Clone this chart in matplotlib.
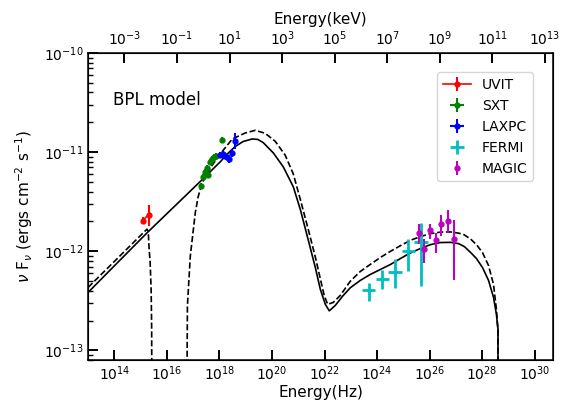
import numpy as np
import matplotlib
matplotlib.use("Agg")
import matplotlib.pyplot as plt
from matplotlib.ticker import NullLocator

# --- data (log10 of frequency in Hz, log10 of nuFnu) ---
uvit_lognu = [15.08, 15.30]
uvit_logf = [-11.69, -11.63]
uvit_lo = [-11.73, -11.75]
uvit_hi = [-11.65, -11.53]

sxt_lognu = [17.29, 17.39, 17.46, 17.51, 17.58, 17.63, 17.70, 17.78, 17.88, 18.09]
sxt_logf = [-11.34, -11.25, -11.20, -11.16, -11.23, -11.10, -11.07, -11.05, -11.04, -10.88]
sxt_dx = [0.04, 0.04, 0.04, 0.04, 0.04, 0.04, 0.04, 0.04, 0.04, 0.05]
sxt_dy = [0.03, 0.03, 0.03, 0.03, 0.03, 0.03, 0.03, 0.03, 0.03, 0.03]

laxpc_lognu = [18.03, 18.12, 18.22, 18.30, 18.38, 18.49, 18.60]
laxpc_logf = [-11.03, -11.02, -11.04, -11.05, -11.07, -11.01, -10.89]
laxpc_dx = [0.08, 0.08, 0.08, 0.08, 0.08, 0.08, 0.08]
laxpc_dy = [0.03, 0.03, 0.03, 0.03, 0.04, 0.04, 0.08]

fermi_lognu = [23.68, 24.19, 24.68, 25.19, 25.67]
fermi_logf = [-12.39, -12.28, -12.21, -12.00, -11.91]
fermi_lo = [-12.50, -12.385, -12.37, -12.20, -12.35]
fermi_hi = [-12.32, -12.185, -12.08, -11.875, -11.71]
fermi_dx = [0.25, 0.25, 0.25, 0.25, 0.25]

magic_lognu = [25.58, 25.80, 26.01, 26.23, 26.45, 26.68, 26.91]
magic_logf = [-11.82, -11.98, -11.79, -11.89, -11.73, -11.69, -11.88]
magic_lo = [-11.93, -12.12, -11.88, -12.02, -11.85, -11.82, -12.29]
magic_hi = [-11.72, -11.88, -11.73, -11.82, -11.63, -11.58, -11.68]

# model curves
solid_lognu = [13.00, 15.24, 17.27, 18.03, 18.30, 18.60, 18.90, 19.25, 19.46, 19.67,
               20.05, 20.43, 20.81, 21.08, 21.38, 21.65, 21.84, 22.03, 22.18, 22.41,
               22.68, 22.98, 23.36, 23.74, 24.12, 24.51, 24.89, 25.27, 25.65, 26.03,
               26.41, 26.79, 27.10, 27.32, 27.55, 27.78, 28.01, 28.24, 28.43, 28.54,
               28.60, 28.601]
solid_logf = [-12.415, -11.815, -11.296, -11.098, -11.018, -10.943, -10.893, -10.867, -10.872, -10.905,
              -11.008, -11.149, -11.35, -11.581, -11.887, -12.166, -12.385, -12.536, -12.601, -12.546,
              -12.455, -12.368, -12.294, -12.234, -12.184, -12.133, -12.073, -12.016, -11.972, -11.933,
              -11.912, -11.910, -11.923, -11.953, -12.010, -12.073, -12.164, -12.294, -12.465, -12.636,
              -12.787, -15.0]

dashed_lognu = [13.00, 15.24, 15.29, 15.32, 15.36, 15.40, 15.42, 15.44, 16.73, 16.78,
                16.89, 17.08, 17.19, 17.34, 17.65, 18.03, 18.49, 18.98, 19.36, 19.74,
                20.12, 20.50, 20.81, 21.08, 21.38, 21.65, 21.84, 21.99, 22.12, 22.33,
                22.60, 22.98, 23.36, 23.74, 24.12, 24.51, 24.89, 25.27, 25.65, 26.03,
                26.41, 26.79, 27.10, 27.30, 27.55, 27.78, 28.01, 28.24, 28.43, 28.54,
                28.58, 28.60, 28.601]
dashed_logf = [-12.365, -11.777, -11.80, -11.963, -12.103, -12.386, -12.787, -15.0, -15.0, -12.553,
               -12.05, -11.611, -11.45, -11.31, -11.159, -11.018, -10.867, -10.807, -10.78, -10.81,
               -10.89, -11.03, -11.22, -11.48, -11.78, -12.06, -12.28, -12.45, -12.536, -12.516,
               -12.445, -12.302, -12.204, -12.133, -12.063, -12.0, -11.943, -11.889, -11.852, -11.822,
               -11.807, -11.805, -11.817, -11.832, -11.875, -11.933, -12.013, -12.144, -12.335, -12.586,
               -12.737, -12.787, -15.0]

HZ_PER_KEV = 2.418e17


def p10(a):
    return 10.0 ** np.asarray(a, dtype=float)


plt.rcParams['font.size'] = 10
fig = plt.figure(figsize=(5.61, 4.0), dpi=100)
ax = fig.add_axes([0.157, 0.10, 0.829, 0.7675])

ax.plot(p10(solid_lognu), p10(solid_logf), 'k-', lw=1.2)
ax.plot(p10(dashed_lognu), p10(dashed_logf), 'k--', lw=1.2)

# UVIT
x = p10(uvit_lognu); y = p10(uvit_logf)
ax.errorbar(x, y, yerr=[y - p10(uvit_lo), p10(uvit_hi) - y], fmt='o-', color='r',
            ms=3.5, lw=1.2, elinewidth=1.5, capsize=0, label='UVIT')
# SXT
x = p10(sxt_lognu); y = p10(sxt_logf)
ax.errorbar(x, y, xerr=[x - p10(np.array(sxt_lognu) - sxt_dx), p10(np.array(sxt_lognu) + sxt_dx) - x],
            yerr=[y - p10(np.array(sxt_logf) - sxt_dy), p10(np.array(sxt_logf) + sxt_dy) - y],
            fmt='o', color='g', ms=3.5, elinewidth=1.5, capsize=0, label='SXT')
# LAXPC
x = p10(laxpc_lognu); y = p10(laxpc_logf)
ax.errorbar(x, y, xerr=[x - p10(np.array(laxpc_lognu) - laxpc_dx), p10(np.array(laxpc_lognu) + laxpc_dx) - x],
            yerr=[y - p10(np.array(laxpc_logf) - laxpc_dy), p10(np.array(laxpc_logf) + laxpc_dy) - y],
            fmt='o', color='b', ms=3.5, elinewidth=1.5, capsize=0, label='LAXPC')
# FERMI
x = p10(fermi_lognu); y = p10(fermi_logf)
ax.errorbar(x, y, xerr=[x - p10(np.array(fermi_lognu) - fermi_dx), p10(np.array(fermi_lognu) + fermi_dx) - x],
            yerr=[y - p10(fermi_lo), p10(fermi_hi) - y],
            fmt='o', color='c', ms=2, elinewidth=2, capsize=0, label='FERMI')
# MAGIC
x = p10(magic_lognu); y = p10(magic_logf)
ax.errorbar(x, y, yerr=[y - p10(magic_lo), p10(magic_hi) - y],
            fmt='o', color='m', ms=3.5, elinewidth=1.5, capsize=0, label='MAGIC')

ax.set_xscale('log')
ax.set_yscale('log')
ax.set_xlim(1e13, 5e30)
ax.set_ylim(8e-14, 1e-10)
ax.set_xticks([10.0 ** k for k in range(14, 31, 2)])
ax.xaxis.set_minor_locator(NullLocator())
ax.tick_params(which='both', direction='in', top=False, right=False, labelsize=10)
ax.tick_params(which='major', length=7, width=1.4)
ax.tick_params(which='minor', length=3.5, width=1.0)
for s in ax.spines.values():
    s.set_linewidth(1.1)

ax.set_xlabel('Energy(Hz)', fontsize=11, labelpad=1)
ax.set_ylabel(r'$\nu$ F$_\nu$ (ergs cm$^{-2}$ s$^{-1}$)', fontsize=11, labelpad=6)
ax.text(0.054, 0.847, 'BPL model', transform=ax.transAxes, fontsize=12, va='center')

ax.legend(loc='upper right', bbox_to_anchor=(0.957, 0.937), fontsize=10,
          borderaxespad=0, handlelength=2.0)

ax2 = ax.twiny()
ax2.set_xscale('log')
lo, hi = ax.get_xlim()
ax2.set_xlim(lo / HZ_PER_KEV, hi / HZ_PER_KEV)
ax2.set_xticks([10.0 ** k for k in range(-3, 14, 2)])
ax2.xaxis.set_minor_locator(NullLocator())
ax2.tick_params(which='major', direction='in', length=7, width=1.4, labelsize=10)
ax2.set_xlabel('Energy(keV)', fontsize=11)

fig.savefig('out.png', dpi=100)
